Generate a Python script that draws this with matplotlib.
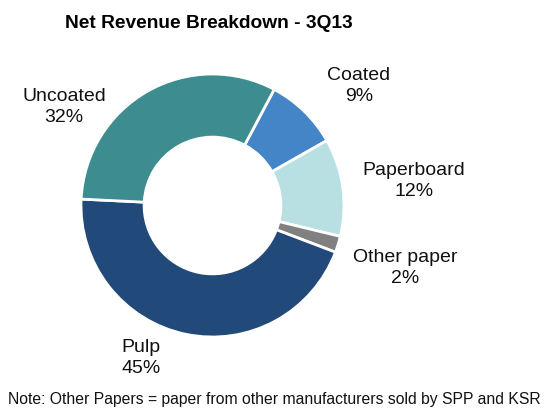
import matplotlib.pyplot as plt

# Net revenue split for 3Q13, clockwise from the top
segments = ["Coated", "Paperboard", "Other paper", "Pulp", "Uncoated"]
shares = [9, 12, 2, 45, 32]
colors = ["#4485C8", "#B8E0E3", "#808080", "#21497A", "#3C8C90"]

# label block centres in pixels (x, y from top)
label_pos = [(359, 86), (414, 181), (405, 268), (141, 358), (64, 107)]

W, H = 549, 410
plt.rcParams["font.family"] = ["Liberation Sans", "DejaVu Sans"]

fig = plt.figure(figsize=(W / 100, H / 100), dpi=100)

# donut: centre (212.5, 206.5) px, outer radius 131.5 px
cx, cy, r = 212.5, 206.5, 131.5
ax = fig.add_axes([(cx - r) / W, (H - cy - r) / H, 2 * r / W, 2 * r / H])
ax.pie(shares, colors=colors, startangle=62, counterclock=False, radius=1,
       wedgeprops=dict(width=0.48, edgecolor="white", linewidth=2))
ax.set_xlim(-1, 1)
ax.set_ylim(-1, 1)
ax.set_aspect("equal")
ax.axis("off")

for name, val, (px, py) in zip(segments, shares, label_pos):
    fig.text(px / W, 1 - py / H, f"{name}\n{val}%", ha="center", va="center",
             fontsize=14, linespacing=1.3, color="#111111")

fig.text(208.5 / W, 1 - 23 / H, "Net Revenue Breakdown - 3Q13",
         ha="center", va="center", fontsize=13.8, fontweight="bold")
fig.text(274 / W, 1 - 400 / H,
         "Note: Other Papers = paper from other manufacturers sold by SPP and KSR",
         ha="center", va="center", fontsize=11.3, color="#111111")

fig.savefig("out.png", dpi=100)
